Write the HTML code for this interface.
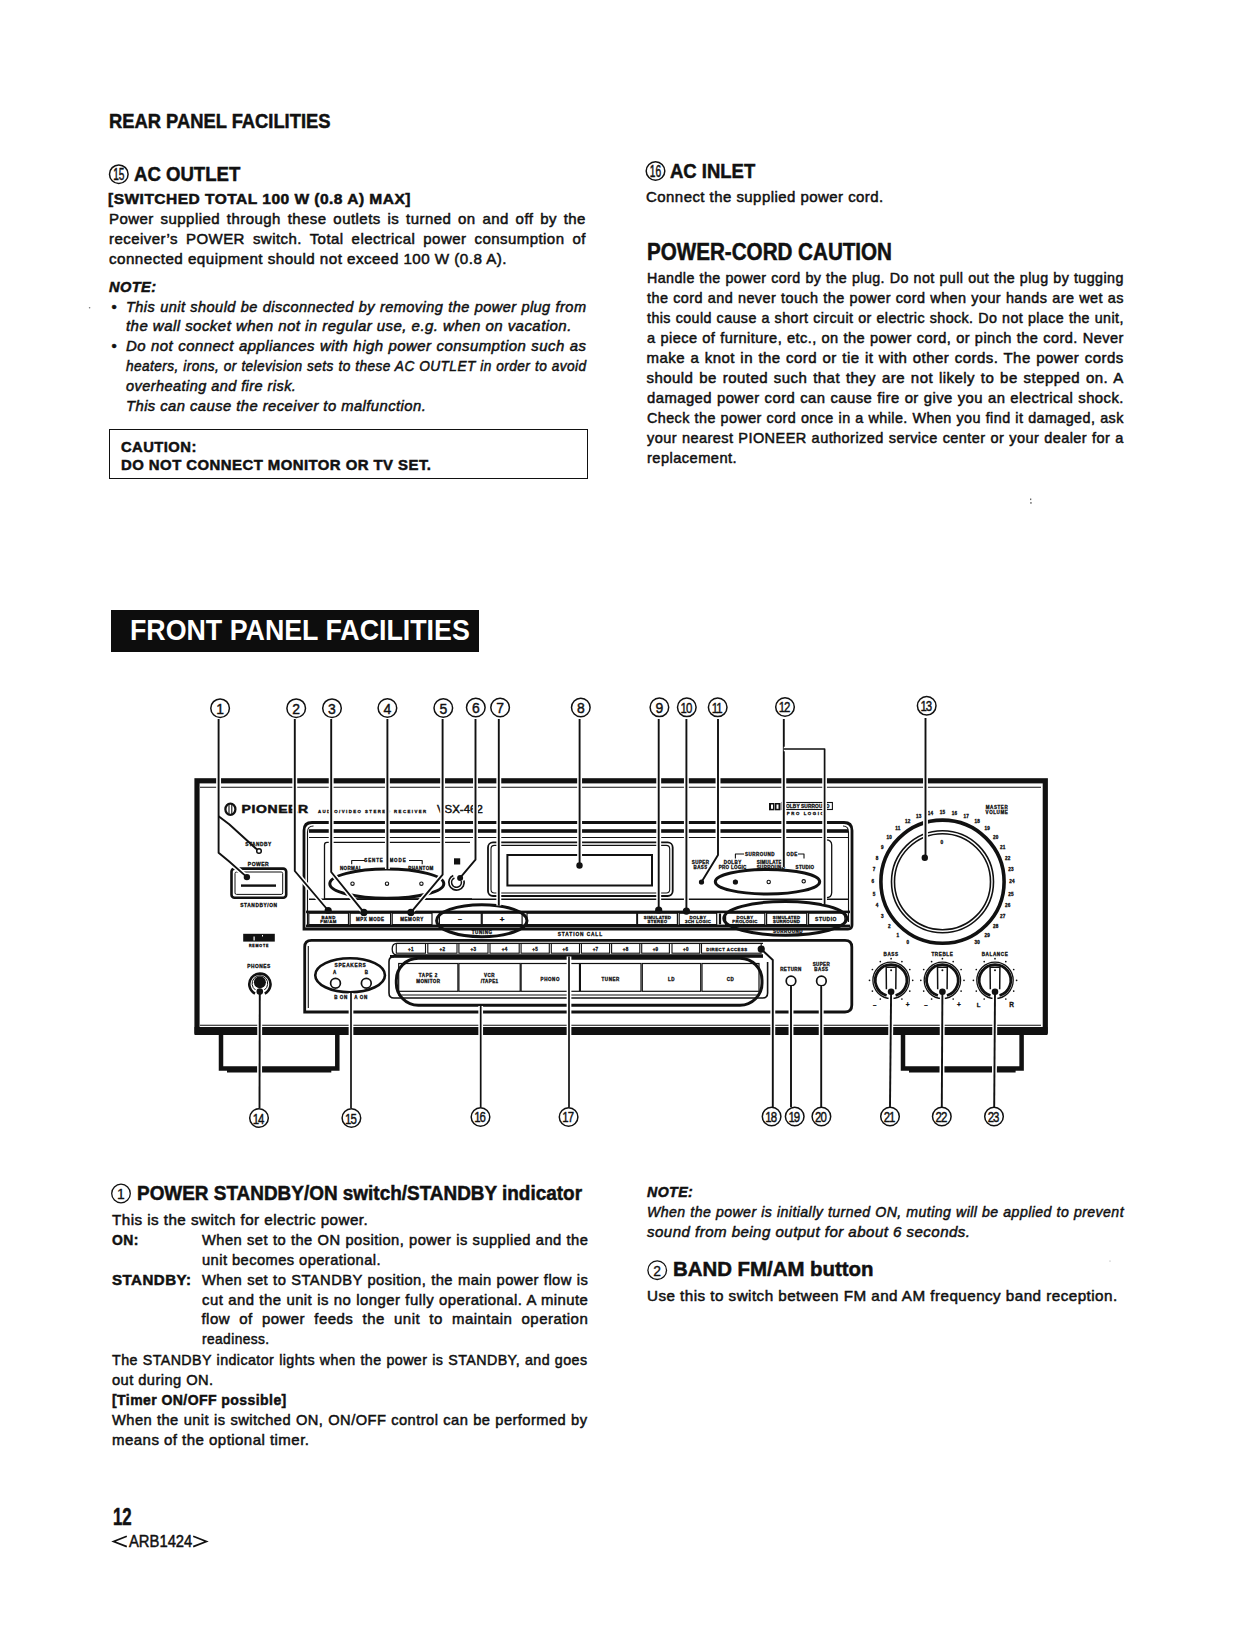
<!DOCTYPE html>
<html><head><meta charset="utf-8"><style>
html,body{margin:0;padding:0;background:#fff;}
body{width:1234px;height:1634px;position:relative;overflow:hidden;color:#111;}
.l{position:absolute;white-space:nowrap;transform-origin:0 0;-webkit-text-stroke:0.5px #111;}
.j{text-align:justify;text-align-last:justify;white-space:normal;}
.c{position:absolute;border:1.3px solid #111;border-radius:50%;box-sizing:border-box;font-family:'Liberation Sans', sans-serif;text-align:center;color:#111;}
.box{position:absolute;border:1.5px solid #111;box-sizing:border-box;}
.hd{position:absolute;background:#0d0d0d;}
</style></head><body>
<div class="l" style="left:109.0px;top:111.4px;font:normal bold 20.3px/20.3px 'Liberation Sans', sans-serif;letter-spacing:0px;transform:scaleX(0.9044)">REAR PANEL FACILITIES</div>
<div class="l" style="left:133.5px;top:162.8px;font:normal bold 21px/21px 'Liberation Sans', sans-serif;letter-spacing:0px;transform:scaleX(0.8847)">AC OUTLET</div>
<div class="l" style="left:108.4px;top:191.2px;font:normal bold 15.0px/15.0px 'Liberation Sans', sans-serif;letter-spacing:0.45px;transform:scaleX(1.0364)">[SWITCHED TOTAL 100 W (0.8 A) MAX]</div>
<div class="l j" style="left:109.0px;top:211.2px;width:476.9px;font:normal normal 15.0px/15.0px 'Liberation Sans', sans-serif;letter-spacing:0.45px">Power supplied through these outlets is turned on and off by the</div>
<div class="l j" style="left:109.0px;top:230.7px;width:476.9px;font:normal normal 15.0px/15.0px 'Liberation Sans', sans-serif;letter-spacing:0.45px">receiver’s POWER switch. Total electrical power consumption of</div>
<div class="l" style="left:109.0px;top:250.6px;font:normal normal 15.0px/15.0px 'Liberation Sans', sans-serif;letter-spacing:0.45px;transform:scaleX(1.0132)">connected equipment should not exceed 100 W (0.8 A).</div>
<div class="l" style="left:109.0px;top:278.6px;font:italic bold 15.0px/15.0px 'Liberation Sans', sans-serif;letter-spacing:0.45px;transform:scaleX(0.9730)">NOTE:</div>
<div class="l" style="left:111.5px;top:298.6px;font:normal normal 15.0px/15.0px 'Liberation Sans', sans-serif">•</div>
<div class="l j" style="left:125.5px;top:298.6px;width:474.6px;font:italic normal 15.0px/15.0px 'Liberation Sans', sans-serif;letter-spacing:0.45px;transform:scaleX(0.9702)">This unit should be disconnected by removing the power plug from</div>
<div class="l" style="left:125.5px;top:318.2px;font:italic normal 15.0px/15.0px 'Liberation Sans', sans-serif;letter-spacing:0.45px;transform:scaleX(1.0012)">the wall socket when not in regular use, e.g. when on vacation.</div>
<div class="l" style="left:111.5px;top:338.2px;font:normal normal 15.0px/15.0px 'Liberation Sans', sans-serif">•</div>
<div class="l j" style="left:125.5px;top:338.2px;width:462.3px;font:italic normal 15.0px/15.0px 'Liberation Sans', sans-serif;letter-spacing:0.45px;transform:scaleX(0.9960)">Do not connect appliances with high power consumption such as</div>
<div class="l j" style="left:125.5px;top:357.6px;width:505.0px;font:italic normal 15.0px/15.0px 'Liberation Sans', sans-serif;letter-spacing:0.45px;transform:scaleX(0.9119)">heaters, irons, or television sets to these AC OUTLET in order to avoid</div>
<div class="l" style="left:125.5px;top:377.8px;font:italic normal 15.0px/15.0px 'Liberation Sans', sans-serif;letter-spacing:0.45px;transform:scaleX(0.9679)">overheating and fire risk.</div>
<div class="l" style="left:125.5px;top:397.8px;font:italic normal 15.0px/15.0px 'Liberation Sans', sans-serif;letter-spacing:0.45px;transform:scaleX(0.9859)">This can cause the receiver to malfunction.</div>
<div class="l" style="left:121.0px;top:438.8px;font:normal bold 15.0px/15.0px 'Liberation Sans', sans-serif;letter-spacing:0.45px;transform:scaleX(0.9852)">CAUTION:</div>
<div class="l" style="left:121.0px;top:456.9px;font:normal bold 15.0px/15.0px 'Liberation Sans', sans-serif;letter-spacing:0.45px;transform:scaleX(0.9946)">DO NOT CONNECT MONITOR OR TV SET.</div>
<div class="l" style="left:670.0px;top:159.7px;font:normal bold 21px/21px 'Liberation Sans', sans-serif;letter-spacing:0px;transform:scaleX(0.8799)">AC INLET</div>
<div class="l" style="left:646.3px;top:189.1px;font:normal normal 15.0px/15.0px 'Liberation Sans', sans-serif;letter-spacing:0.45px;transform:scaleX(0.9993)">Connect the supplied power cord.</div>
<div class="l" style="left:647.0px;top:241.4px;font:normal bold 23px/23px 'Liberation Sans', sans-serif;letter-spacing:0px;transform:scaleX(0.8960)">POWER-CORD CAUTION</div>
<div class="l j" style="left:646.5px;top:270.4px;width:501.0px;font:normal normal 15.0px/15.0px 'Liberation Sans', sans-serif;letter-spacing:0.45px;transform:scaleX(0.9517)">Handle the power cord by the plug. Do not pull out the plug by tugging</div>
<div class="l j" style="left:646.5px;top:290.3px;width:495.8px;font:normal normal 15.0px/15.0px 'Liberation Sans', sans-serif;letter-spacing:0.45px;transform:scaleX(0.9617)">the cord and never touch the power cord when your hands are wet as</div>
<div class="l j" style="left:646.5px;top:310.2px;width:501.9px;font:normal normal 15.0px/15.0px 'Liberation Sans', sans-serif;letter-spacing:0.45px;transform:scaleX(0.9500)">this could cause a short circuit or electric shock. Do not place the unit,</div>
<div class="l j" style="left:646.5px;top:330.1px;width:490.4px;font:normal normal 15.0px/15.0px 'Liberation Sans', sans-serif;letter-spacing:0.45px;transform:scaleX(0.9722)">a piece of furniture, etc., on the power cord, or pinch the cord. Never</div>
<div class="l j" style="left:646.5px;top:350.0px;width:477.2px;font:normal normal 15.0px/15.0px 'Liberation Sans', sans-serif;letter-spacing:0.45px">make a knot in the cord or tie it with other cords. The power cords</div>
<div class="l j" style="left:646.5px;top:369.9px;width:477.2px;font:normal normal 15.0px/15.0px 'Liberation Sans', sans-serif;letter-spacing:0.45px">should be routed such that they are not likely to be stepped on. A</div>
<div class="l j" style="left:646.5px;top:389.8px;width:482.3px;font:normal normal 15.0px/15.0px 'Liberation Sans', sans-serif;letter-spacing:0.45px;transform:scaleX(0.9887)">damaged power cord can cause fire or give you an electrical shock.</div>
<div class="l j" style="left:646.5px;top:409.8px;width:498.7px;font:normal normal 15.0px/15.0px 'Liberation Sans', sans-serif;letter-spacing:0.45px;transform:scaleX(0.9560)">Check the power cord once in a while. When you find it damaged, ask</div>
<div class="l j" style="left:646.5px;top:429.6px;width:492.8px;font:normal normal 15.0px/15.0px 'Liberation Sans', sans-serif;letter-spacing:0.45px;transform:scaleX(0.9675)">your nearest PIONEER authorized service center or your dealer for a</div>
<div class="l" style="left:646.5px;top:449.6px;font:normal normal 15.0px/15.0px 'Liberation Sans', sans-serif;letter-spacing:0.45px;transform:scaleX(0.9780)">replacement.</div>
<div class="l" style="left:136.5px;top:1184.3px;font:normal bold 19.5px/19.5px 'Liberation Sans', sans-serif;letter-spacing:0px;transform:scaleX(0.9710)">POWER STANDBY/ON switch/STANDBY indicator</div>
<div class="l" style="left:112.3px;top:1212.0px;font:normal normal 15.0px/15.0px 'Liberation Sans', sans-serif;letter-spacing:0.45px;transform:scaleX(1.0126)">This is the switch for electric power.</div>
<div class="l" style="left:112.2px;top:1232.2px;font:normal bold 15.0px/15.0px 'Liberation Sans', sans-serif;letter-spacing:0.45px;transform:scaleX(0.9286)">ON:</div>
<div class="l j" style="left:201.5px;top:1232.2px;width:394.3px;font:normal normal 15.0px/15.0px 'Liberation Sans', sans-serif;letter-spacing:0.45px;transform:scaleX(0.9797)">When set to the ON position, power is supplied and the</div>
<div class="l" style="left:201.5px;top:1251.5px;font:normal normal 15.0px/15.0px 'Liberation Sans', sans-serif;letter-spacing:0.45px;transform:scaleX(0.9780)">unit becomes operational.</div>
<div class="l" style="left:112.2px;top:1271.5px;font:normal bold 15.0px/15.0px 'Liberation Sans', sans-serif;letter-spacing:0.45px;transform:scaleX(1.0067)">STANDBY:</div>
<div class="l j" style="left:201.5px;top:1271.5px;width:393.6px;font:normal normal 15.0px/15.0px 'Liberation Sans', sans-serif;letter-spacing:0.45px;transform:scaleX(0.9814)">When set to STANDBY position, the main power flow is</div>
<div class="l j" style="left:201.5px;top:1291.5px;width:389.0px;font:normal normal 15.0px/15.0px 'Liberation Sans', sans-serif;letter-spacing:0.45px;transform:scaleX(0.9932)">cut and the unit is no longer fully operational. A minute</div>
<div class="l j" style="left:201.5px;top:1311.2px;width:386.7px;font:normal normal 15.0px/15.0px 'Liberation Sans', sans-serif;letter-spacing:0.45px">flow of power feeds the unit to maintain operation</div>
<div class="l" style="left:201.5px;top:1331.0px;font:normal normal 15.0px/15.0px 'Liberation Sans', sans-serif;letter-spacing:0.45px;transform:scaleX(0.9170)">readiness.</div>
<div class="l j" style="left:112.3px;top:1351.5px;width:500.4px;font:normal normal 15.0px/15.0px 'Liberation Sans', sans-serif;letter-spacing:0.45px;transform:scaleX(0.9502)">The STANDBY indicator lights when the power is STANDBY, and goes</div>
<div class="l" style="left:112.3px;top:1371.8px;font:normal normal 15.0px/15.0px 'Liberation Sans', sans-serif;letter-spacing:0.45px;transform:scaleX(0.9782)">out during ON.</div>
<div class="l" style="left:112.3px;top:1391.7px;font:normal bold 15.0px/15.0px 'Liberation Sans', sans-serif;letter-spacing:0.45px;transform:scaleX(0.9354)">[Timer ON/OFF possible]</div>
<div class="l j" style="left:112.3px;top:1411.8px;width:486.3px;font:normal normal 15.0px/15.0px 'Liberation Sans', sans-serif;letter-spacing:0.45px;transform:scaleX(0.9777)">When the unit is switched ON, ON/OFF control can be performed by</div>
<div class="l" style="left:112.3px;top:1431.8px;font:normal normal 15.0px/15.0px 'Liberation Sans', sans-serif;letter-spacing:0.45px;transform:scaleX(1.0027)">means of the optional timer.</div>
<div class="l" style="left:113.0px;top:1505.9px;font:normal bold 23.2px/23.2px 'Liberation Sans', sans-serif;letter-spacing:0px;transform:scaleX(0.7249)">12</div>
<div class="l" style="left:128.6px;top:1534.0px;font:normal normal 16.8px/16.8px 'Liberation Sans', sans-serif;letter-spacing:0px;transform:scaleX(0.8811)">ARB1424</div>
<div class="l" style="left:647.0px;top:1184.0px;font:italic bold 15.0px/15.0px 'Liberation Sans', sans-serif;letter-spacing:0.45px;transform:scaleX(0.9444)">NOTE:</div>
<div class="l j" style="left:647.0px;top:1204.0px;width:506.9px;font:italic normal 15.0px/15.0px 'Liberation Sans', sans-serif;letter-spacing:0.45px;transform:scaleX(0.9410)">When the power is initially turned ON, muting will be applied to prevent</div>
<div class="l" style="left:647.0px;top:1223.7px;font:italic normal 15.0px/15.0px 'Liberation Sans', sans-serif;letter-spacing:0.45px;transform:scaleX(1.0057)">sound from being output for about 6 seconds.</div>
<div class="l" style="left:672.5px;top:1260.4px;font:normal bold 19.5px/19.5px 'Liberation Sans', sans-serif;letter-spacing:0px;transform:scaleX(1.0459)">BAND FM/AM button</div>
<div class="l" style="left:647.0px;top:1287.8px;font:normal normal 15.0px/15.0px 'Liberation Sans', sans-serif;letter-spacing:0.45px;transform:scaleX(1.0143)">Use this to switch between FM and AM frequency band reception.</div>
<svg style="position:absolute;left:0;top:0" width="1234" height="1634" viewBox="0 0 1234 1634">
<g font-family="'Liberation Sans',sans-serif" fill="#111">
<circle cx="118.8" cy="174.2" r="9.3" stroke="#111" stroke-width="1.5" fill="none"/>
<text x="118.8" y="180.3" font-size="17" text-anchor="middle" transform="translate(118.8 0) scale(0.6 1) translate(-118.8 0)" stroke="#111" stroke-width="0.5">15</text>
<circle cx="655.5" cy="171" r="9.3" stroke="#111" stroke-width="1.5" fill="none"/>
<text x="655.5" y="177.1" font-size="17" text-anchor="middle" transform="translate(655.5 0) scale(0.6 1) translate(-655.5 0)" stroke="#111" stroke-width="0.5">16</text>
<circle cx="89.6" cy="307.8" r="0.8" fill="#777"/>
<path d="M126.8,1536.3 L113.6,1541.5 L126.8,1546.6 M193.2,1536.3 L206.4,1541.5 L193.2,1546.6" stroke="#111" stroke-width="1.7" fill="none" stroke-linejoin="miter"/>
<rect x="1030" y="498.5" width="1.3" height="1.6" fill="#666"/><rect x="1030.3" y="502" width="1.3" height="1.8" fill="#666"/>
<circle cx="1110" cy="1261" r="0.6" fill="#999"/>
<circle cx="121" cy="1193.5" r="9.3" stroke="#111" stroke-width="1.3" fill="none"/>
<text x="121" y="1199.2" font-size="15.5" text-anchor="middle" stroke="#111" stroke-width="0.3" transform="translate(121 0) scale(0.9 1) translate(-121 0)">1</text>
<circle cx="657.2" cy="1270.2" r="9.3" stroke="#111" stroke-width="1.3" fill="none"/>
<text x="657.2" y="1275.9" font-size="15.5" text-anchor="middle" stroke="#111" stroke-width="0.3" transform="translate(657.2 0) scale(0.9 1) translate(-657.2 0)">2</text>
</g></svg>
<div class="box" style="left:109px;top:429px;width:478.5px;height:49.5px;"></div>
<div class="hd" style="left:110.7px;top:609.7px;width:368.6px;height:42.2px;"></div>
<div class="l" style="left:129.8px;top:615.3px;font:bold 29.6px/29.6px 'Liberation Sans', sans-serif;color:#fff;-webkit-text-stroke:0;transform:scaleX(0.905)">FRONT PANEL FACILITIES</div>
<svg style="position:absolute;left:0;top:680px" width="1234" height="460" viewBox="0 680 1234 460">
<g style="font-family:'Liberation Sans',sans-serif" fill="#111">
<rect x="197" y="780.8" width="848.3" height="250.4000000000001" rx="0" stroke="#111" stroke-width="5.2" fill="none"/>
<rect x="194.5" y="1027" width="853" height="8" fill="#111"/>
<path d="M200,787.3 L1041,787.3" stroke="#111" stroke-width="1.1" fill="none" stroke-linejoin="round"/>
<path d="M200,1025.3 L1041,1025.3" stroke="#111" stroke-width="1.1" fill="none" stroke-linejoin="round"/>
<path d="M221,1035 L221,1068.5 L337.3,1068.5 L337.3,1035" stroke="#111" stroke-width="4.5" fill="none"/>
<rect x="227" y="1069" width="104.30000000000001" height="3.5" fill="#111"/>
<path d="M903,1035 L903,1068.5 L1021.6,1068.5 L1021.6,1035" stroke="#111" stroke-width="4.5" fill="none"/>
<rect x="909" y="1069" width="106.60000000000002" height="3.5" fill="#111"/>
<text x="258.5" y="846" font-size="4.8" font-weight="bold" text-anchor="middle" letter-spacing="0.5" stroke="#111" stroke-width="0.3" >STANDBY</text>
<circle cx="259" cy="851" r="2.3" stroke="#111" stroke-width="1.5" fill="none"/>
<text x="258.5" y="866" font-size="5" font-weight="bold" text-anchor="middle" letter-spacing="0.5" stroke="#111" stroke-width="0.3" >POWER</text>
<rect x="231.5" y="868.6" width="54.7" height="29.2" rx="3" stroke="#111" stroke-width="2.6" fill="none"/>
<rect x="235" y="872" width="47.7" height="22.4" rx="1.5" stroke="#111" stroke-width="1" fill="none"/>
<rect x="241" y="884.4" width="35" height="2.4" fill="#111"/>
<text x="259" y="906.5" font-size="4.8" font-weight="bold" text-anchor="middle" letter-spacing="0.6" stroke="#111" stroke-width="0.3" >STANDBY/ON</text>
<rect x="243.2" y="933.8" width="31.6" height="7.8" fill="#111"/>
<rect x="253.5" y="936.5" width="1.2" height="4" fill="#fff"/><rect x="262" y="935" width="1" height="1.5" fill="#fff"/>
<text x="259" y="947" font-size="3.6" font-weight="bold" text-anchor="middle" letter-spacing="0.8" stroke="#111" stroke-width="0.3" >REMOTE</text>
<text x="259" y="968" font-size="4.8" font-weight="bold" text-anchor="middle" letter-spacing="0.5" stroke="#111" stroke-width="0.3" >PHONES</text>
<path d="M255,993.6 A10.6,10.6 0 1 1 264.8,993.6" stroke="#111" stroke-width="2.6" fill="none"/>
<path d="M255.5,990 A7.8,7.8 0 1 1 264.3,990" stroke="#111" stroke-width="1.0" fill="none"/>
<circle cx="259.9" cy="982.3" r="6" fill="#111"/>
<path d="M304,929 L304,830.5 Q304,822.5 312,822.5 L844,822.5 Q852,822.5 852,830.5 L852,925 Q852,929 848,929 Z" stroke="#111" stroke-width="2.8" fill="none"/>
<path d="M307.5,926 L307.5,832 Q307.5,826 313.5,826 M843,826 Q848.5,826 848.5,832 L848.5,922" stroke="#111" stroke-width="1.1" fill="none"/>
<rect x="309" y="829.2" width="539" height="3.6" fill="#111"/>
<path d="M309,837.5 L848,837.5" stroke="#111" stroke-width="1.0" fill="none" stroke-linejoin="round"/>
<path d="M309,899.2 L848,899.2" stroke="#111" stroke-width="1.6" fill="none" stroke-linejoin="round"/>
<path d="M470,842.4 L327,842.4 Q324.5,842.4 324.5,845 L324.5,899 L472,899" stroke="#111" stroke-width="1.3" fill="none"/>
<ellipse cx="386.8" cy="883.7" rx="57" ry="14.6" stroke="#111" stroke-width="3" fill="none"/>
<circle cx="352.5" cy="883.7" r="1.7" stroke="#111" stroke-width="1.1" fill="none"/>
<circle cx="387" cy="883.7" r="1.7" stroke="#111" stroke-width="1.1" fill="none"/>
<circle cx="421.4" cy="883.7" r="1.7" stroke="#111" stroke-width="1.1" fill="none"/>
<path d="M351.7,864.3 L351.7,860.5 L422.2,860.5 L422.2,864.3" stroke="#111" stroke-width="1.1" fill="none" stroke-linejoin="round"/>
<rect x="365" y="857.5" width="44" height="6" fill="#fff"/>
<text x="374" y="862.4" font-size="4.5" font-weight="bold" text-anchor="middle" letter-spacing="0.9" stroke="#111" stroke-width="0.3" >SENTE</text>
<text x="398" y="862.4" font-size="4.5" font-weight="bold" text-anchor="middle" letter-spacing="0.9" stroke="#111" stroke-width="0.3" >MODE</text>
<text x="351" y="870.3" font-size="4.5" font-weight="bold" text-anchor="middle" letter-spacing="0.4" stroke="#111" stroke-width="0.3" >NORMAL</text>
<text x="421" y="870.3" font-size="4.5" font-weight="bold" text-anchor="middle" letter-spacing="0.4" stroke="#111" stroke-width="0.3" >PHANTOM</text>
<rect x="454" y="858.3" width="6.2" height="6.2" fill="#111"/>
<path d="M463.94,880.41 A7.7,7.7 0 1 1 453.25,875.42" stroke="#111" stroke-width="1.7" fill="none"/>
<path d="M461.23,881.13 A4.9,4.9 0 1 1 454.43,877.96" stroke="#111" stroke-width="1.6" fill="none"/>
<rect x="488" y="842.4" width="184.7" height="53.6" rx="5" stroke="#111" stroke-width="1.8" fill="none"/>
<rect x="491" y="845.4" width="178.7" height="47.6" rx="3.5" stroke="#111" stroke-width="1.1" fill="none"/>
<rect x="507.4" y="855" width="144.60000000000002" height="30.5" rx="0" stroke="#111" stroke-width="2" fill="none"/>
<path d="M826,839.8 Q831.7,839.8 831.7,845 L831.7,892.5 Q831.7,897.7 826,897.7" stroke="#111" stroke-width="1.3" fill="none"/>
<text x="700.6" y="864.3" font-size="4.5" font-weight="bold" text-anchor="middle" letter-spacing="0.4" stroke="#111" stroke-width="0.3" >SUPER</text>
<text x="700.6" y="869.3" font-size="4.5" font-weight="bold" text-anchor="middle" letter-spacing="0.4" stroke="#111" stroke-width="0.3" >BASS</text>
<path d="M735.4,858.5 L735.4,854 L804,854 L804,858.5" stroke="#111" stroke-width="1.1" fill="none" stroke-linejoin="round"/>
<rect x="744" y="851" width="54" height="6" fill="#fff"/>
<text x="760" y="856.3" font-size="4.5" font-weight="bold" text-anchor="middle" letter-spacing="0.5" stroke="#111" stroke-width="0.3" >SURROUND</text>
<text x="790" y="856.3" font-size="4.5" font-weight="bold" text-anchor="middle" letter-spacing="0.5" stroke="#111" stroke-width="0.3" >MODE</text>
<text x="732.7" y="864.3" font-size="4.5" font-weight="bold" text-anchor="middle" letter-spacing="0.4" stroke="#111" stroke-width="0.3" >DOLBY</text>
<text x="732.7" y="869.3" font-size="4.5" font-weight="bold" text-anchor="middle" letter-spacing="0.3" stroke="#111" stroke-width="0.3" >PRO LOGIC</text>
<text x="771" y="864.3" font-size="4.5" font-weight="bold" text-anchor="middle" letter-spacing="0.3" stroke="#111" stroke-width="0.3" >SIMULATED</text>
<text x="771" y="869.3" font-size="4.5" font-weight="bold" text-anchor="middle" letter-spacing="0.3" stroke="#111" stroke-width="0.3" >SURROUND</text>
<text x="805" y="869.3" font-size="4.5" font-weight="bold" text-anchor="middle" letter-spacing="0.3" stroke="#111" stroke-width="0.3" >STUDIO</text>
<ellipse cx="767.5" cy="881.7" rx="52.2" ry="12.3" stroke="#111" stroke-width="3" fill="none"/>
<circle cx="735.4" cy="882" r="2.2" fill="#111"/>
<circle cx="768.7" cy="882" r="1.7" stroke="#111" stroke-width="1.1" fill="none"/>
<circle cx="803.7" cy="881.3" r="1.7" stroke="#111" stroke-width="1.1" fill="none"/>
<circle cx="701.5" cy="882" r="2.2" fill="#111"/>
<rect x="306" y="910.6" width="544" height="2.6" fill="#111"/>
<rect x="306" y="924.6" width="544" height="2.6" fill="#111"/>
<rect x="308.8" y="913.2" width="39.69999999999999" height="11.399999999999977" rx="0" stroke="#111" stroke-width="1.2" fill="none"/>
<rect x="350.1" y="913.2" width="40.5" height="11.399999999999977" rx="0" stroke="#111" stroke-width="1.2" fill="none"/>
<rect x="392.2" y="913.2" width="39.80000000000001" height="11.399999999999977" rx="0" stroke="#111" stroke-width="1.2" fill="none"/>
<rect x="439.4" y="913.2" width="41.900000000000034" height="11.399999999999977" rx="0" stroke="#111" stroke-width="1.2" fill="none"/>
<rect x="482.2" y="913.2" width="39.900000000000034" height="11.399999999999977" rx="0" stroke="#111" stroke-width="1.2" fill="none"/>
<rect x="527" y="913.2" width="109.79999999999995" height="11.399999999999977" rx="0" stroke="#111" stroke-width="1.2" fill="none"/>
<rect x="637.5" y="913.2" width="39.89999999999998" height="11.399999999999977" rx="0" stroke="#111" stroke-width="1.2" fill="none"/>
<rect x="679.2" y="913.2" width="37.5" height="11.399999999999977" rx="0" stroke="#111" stroke-width="1.2" fill="none"/>
<rect x="725.6" y="913.2" width="39.19999999999993" height="11.399999999999977" rx="0" stroke="#111" stroke-width="1.2" fill="none"/>
<rect x="766.6" y="913.2" width="40.10000000000002" height="11.399999999999977" rx="0" stroke="#111" stroke-width="1.2" fill="none"/>
<path d="M808.5,913.2 L840,913.2 Q845,913.2 845,918.9 Q845,924.6 840,924.6 L808.5,924.6 Z" stroke="#111" stroke-width="1.3" fill="none"/>
<path d="M720,913.5 L720,924.3" stroke="#111" stroke-width="2.2" fill="none" stroke-linejoin="round"/>
<text x="328.6" y="918.6" font-size="4.3" font-weight="bold" text-anchor="middle" letter-spacing="0.5" stroke="#111" stroke-width="0.3" >BAND</text>
<text x="328.6" y="923.3" font-size="4.3" font-weight="bold" text-anchor="middle" letter-spacing="0.5" stroke="#111" stroke-width="0.3" >FM/AM</text>
<text x="370.3" y="921" font-size="4.5" font-weight="bold" text-anchor="middle" letter-spacing="0.5" stroke="#111" stroke-width="0.3" >MPX  MODE</text>
<text x="412" y="921" font-size="4.5" font-weight="bold" text-anchor="middle" letter-spacing="0.6" stroke="#111" stroke-width="0.3" >MEMORY</text>
<text x="460" y="921" font-size="7" font-weight="bold" text-anchor="middle" letter-spacing="0" stroke="#111" stroke-width="0.3" >–</text>
<text x="502" y="922" font-size="8" font-weight="bold" text-anchor="middle" letter-spacing="0" stroke="#111" stroke-width="0.3" >+</text>
<text x="657.5" y="918.6" font-size="4.3" font-weight="bold" text-anchor="middle" letter-spacing="0.3" stroke="#111" stroke-width="0.3" >SIMULATED</text>
<text x="657.5" y="923.3" font-size="4.3" font-weight="bold" text-anchor="middle" letter-spacing="0.4" stroke="#111" stroke-width="0.3" >STEREO</text>
<text x="698" y="918.6" font-size="4.3" font-weight="bold" text-anchor="middle" letter-spacing="0.4" stroke="#111" stroke-width="0.3" >DOLBY</text>
<text x="698" y="923.3" font-size="4.3" font-weight="bold" text-anchor="middle" letter-spacing="0.3" stroke="#111" stroke-width="0.3" >3CH LOGIC</text>
<text x="745" y="918.6" font-size="4.3" font-weight="bold" text-anchor="middle" letter-spacing="0.4" stroke="#111" stroke-width="0.3" >DOLBY</text>
<text x="745" y="923.3" font-size="4.3" font-weight="bold" text-anchor="middle" letter-spacing="0.3" stroke="#111" stroke-width="0.3" >PROLOGIC</text>
<text x="786.6" y="918.6" font-size="4.3" font-weight="bold" text-anchor="middle" letter-spacing="0.3" stroke="#111" stroke-width="0.3" >SIMULATED</text>
<text x="786.6" y="923.3" font-size="4.3" font-weight="bold" text-anchor="middle" letter-spacing="0.3" stroke="#111" stroke-width="0.3" >SURROUND</text>
<text x="826" y="921" font-size="5" font-weight="bold" text-anchor="middle" letter-spacing="0.5" stroke="#111" stroke-width="0.3" >STUDIO</text>
<ellipse cx="481.8" cy="920.7" rx="45.2" ry="16" stroke="#111" stroke-width="3" fill="none"/>
<ellipse cx="785.3" cy="918.3" rx="61.5" ry="16.9" stroke="#111" stroke-width="3" fill="none"/>
<text x="482.2" y="934" font-size="4.5" font-weight="bold" text-anchor="middle" letter-spacing="0.6" stroke="#111" stroke-width="0.3" >TUNING</text>
<text x="580.4" y="935.5" font-size="4.8" font-weight="bold" text-anchor="middle" letter-spacing="0.9" stroke="#111" stroke-width="0.3" >STATION  CALL</text>
<text x="788" y="932.5" font-size="4.5" font-weight="bold" text-anchor="middle" letter-spacing="0.5" stroke="#111" stroke-width="0.3" >SURROUND</text>
<path d="M304.7,1012 L304.7,947 Q304.7,940.3 311.5,940.3 L845,940.3 Q851.8,940.3 851.8,947 L851.8,1005 Q851.8,1012 845,1012 Z" stroke="#111" stroke-width="2.8" fill="none"/>
<path d="M308.3,946 L308.3,1008" stroke="#111" stroke-width="1.1" fill="none" stroke-linejoin="round"/>
<ellipse cx="350.1" cy="975.2" rx="34.85" ry="17" stroke="#111" stroke-width="2.6" fill="none"/>
<circle cx="335.5" cy="983.3" r="4.9" stroke="#111" stroke-width="1.7" fill="none"/>
<circle cx="366.3" cy="983.3" r="4.9" stroke="#111" stroke-width="1.7" fill="none"/>
<text x="350.5" y="967.3" font-size="4.8" font-weight="bold" text-anchor="middle" letter-spacing="0.7" stroke="#111" stroke-width="0.3" >SPEAKERS</text>
<text x="334.7" y="974" font-size="4.5" font-weight="bold" text-anchor="middle" letter-spacing="0" stroke="#111" stroke-width="0.3" >A</text>
<text x="366.3" y="974" font-size="4.5" font-weight="bold" text-anchor="middle" letter-spacing="0" stroke="#111" stroke-width="0.3" >B</text>
<text x="341" y="999" font-size="4.5" font-weight="bold" text-anchor="middle" letter-spacing="0.6" stroke="#111" stroke-width="0.3" >B ON</text>
<text x="361" y="999" font-size="4.5" font-weight="bold" text-anchor="middle" letter-spacing="0.6" stroke="#111" stroke-width="0.3" >A ON</text>
<path d="M763,943.4 L397,943.4 Q392.2,943.4 392.2,949 Q392.2,955 397,955 L763,955" stroke="#111" stroke-width="1.3" fill="none"/>
<rect x="390" y="955" width="373" height="2.8" fill="#111"/>
<rect x="396.3" y="943.5" width="29.19999999999999" height="9.700000000000045" rx="0" stroke="#111" stroke-width="1.1" fill="none"/>
<text x="410.9" y="950.6" font-size="4.5" font-weight="bold" text-anchor="middle" letter-spacing="0.3" stroke="#111" stroke-width="0.3" >+1</text>
<rect x="427.8" y="943.5" width="29.19999999999999" height="9.700000000000045" rx="0" stroke="#111" stroke-width="1.1" fill="none"/>
<text x="442.4" y="950.6" font-size="4.5" font-weight="bold" text-anchor="middle" letter-spacing="0.3" stroke="#111" stroke-width="0.3" >+2</text>
<rect x="458.9" y="943.5" width="29.100000000000023" height="9.700000000000045" rx="0" stroke="#111" stroke-width="1.1" fill="none"/>
<text x="473.45" y="950.6" font-size="4.5" font-weight="bold" text-anchor="middle" letter-spacing="0.3" stroke="#111" stroke-width="0.3" >+3</text>
<rect x="490" y="943.5" width="29.200000000000045" height="9.700000000000045" rx="0" stroke="#111" stroke-width="1.1" fill="none"/>
<text x="504.6" y="950.6" font-size="4.5" font-weight="bold" text-anchor="middle" letter-spacing="0.3" stroke="#111" stroke-width="0.3" >+4</text>
<rect x="521.1" y="943.5" width="28.199999999999932" height="9.700000000000045" rx="0" stroke="#111" stroke-width="1.1" fill="none"/>
<text x="535.2" y="950.6" font-size="4.5" font-weight="bold" text-anchor="middle" letter-spacing="0.3" stroke="#111" stroke-width="0.3" >+5</text>
<rect x="551.3" y="943.5" width="28.200000000000045" height="9.700000000000045" rx="0" stroke="#111" stroke-width="1.1" fill="none"/>
<text x="565.4" y="950.6" font-size="4.5" font-weight="bold" text-anchor="middle" letter-spacing="0.3" stroke="#111" stroke-width="0.3" >+6</text>
<rect x="581.4" y="943.5" width="28.200000000000045" height="9.700000000000045" rx="0" stroke="#111" stroke-width="1.1" fill="none"/>
<text x="595.5" y="950.6" font-size="4.5" font-weight="bold" text-anchor="middle" letter-spacing="0.3" stroke="#111" stroke-width="0.3" >+7</text>
<rect x="611.6" y="943.5" width="28.199999999999932" height="9.700000000000045" rx="0" stroke="#111" stroke-width="1.1" fill="none"/>
<text x="625.7" y="950.6" font-size="4.5" font-weight="bold" text-anchor="middle" letter-spacing="0.3" stroke="#111" stroke-width="0.3" >+8</text>
<rect x="641.7" y="943.5" width="27.699999999999932" height="9.700000000000045" rx="0" stroke="#111" stroke-width="1.1" fill="none"/>
<text x="655.55" y="950.6" font-size="4.5" font-weight="bold" text-anchor="middle" letter-spacing="0.3" stroke="#111" stroke-width="0.3" >+9</text>
<rect x="672" y="943.5" width="27.700000000000045" height="9.700000000000045" rx="0" stroke="#111" stroke-width="1.1" fill="none"/>
<text x="685.85" y="950.6" font-size="4.5" font-weight="bold" text-anchor="middle" letter-spacing="0.3" stroke="#111" stroke-width="0.3" >+0</text>
<rect x="701.5" y="943.5" width="59.700000000000045" height="9.700000000000045" rx="0" stroke="#111" stroke-width="1.1" fill="none"/>
<text x="727" y="950.6" font-size="4.3" font-weight="bold" text-anchor="middle" letter-spacing="0.5" stroke="#111" stroke-width="0.3" >DIRECT  ACCESS</text>
<circle cx="761.2" cy="949.1" r="3" fill="#111"/>
<path d="M767.6,962 L767.6,993 Q767.6,998 762.6,998 L394,998 Q389,998 389,993 L389,961.6 Q389,956.6 394,956.6" stroke="#111" stroke-width="1.6" fill="none"/>
<rect x="396.3" y="958.2" width="365.7" height="47" rx="22" stroke="#111" stroke-width="3" fill="none"/>
<rect x="398.7" y="963.5" width="59.19999999999999" height="27.799999999999955" rx="0" stroke="#111" stroke-width="1.2" fill="none"/>
<text x="428.29999999999995" y="977.3" font-size="4.5" font-weight="bold" text-anchor="middle" letter-spacing="0.6" stroke="#111" stroke-width="0.3" >TAPE 2</text>
<text x="428.29999999999995" y="982.6" font-size="4.5" font-weight="bold" text-anchor="middle" letter-spacing="0.4" stroke="#111" stroke-width="0.3" >MONITOR</text>
<rect x="458.9" y="963.5" width="61.30000000000007" height="27.799999999999955" rx="0" stroke="#111" stroke-width="1.2" fill="none"/>
<text x="489.55" y="977.3" font-size="4.5" font-weight="bold" text-anchor="middle" letter-spacing="0.6" stroke="#111" stroke-width="0.3" >VCR</text>
<text x="489.55" y="982.6" font-size="4.5" font-weight="bold" text-anchor="middle" letter-spacing="0.4" stroke="#111" stroke-width="0.3" >/TAPE1</text>
<rect x="521.1" y="963.5" width="58.39999999999998" height="27.799999999999955" rx="0" stroke="#111" stroke-width="1.2" fill="none"/>
<text x="550.3" y="981.3" font-size="4.5" font-weight="bold" text-anchor="middle" letter-spacing="0.6" stroke="#111" stroke-width="0.3" >PHONO</text>
<rect x="580.4" y="963.5" width="60.60000000000002" height="27.799999999999955" rx="0" stroke="#111" stroke-width="1.2" fill="none"/>
<text x="610.7" y="981.3" font-size="4.5" font-weight="bold" text-anchor="middle" letter-spacing="0.6" stroke="#111" stroke-width="0.3" >TUNER</text>
<rect x="642.3" y="963.5" width="58.40000000000009" height="27.799999999999955" rx="0" stroke="#111" stroke-width="1.2" fill="none"/>
<text x="671.5" y="981.3" font-size="4.5" font-weight="bold" text-anchor="middle" letter-spacing="0.6" stroke="#111" stroke-width="0.3" >LD</text>
<rect x="702" y="963.5" width="57" height="27.799999999999955" rx="0" stroke="#111" stroke-width="1.2" fill="none"/>
<text x="730.5" y="981.3" font-size="4.5" font-weight="bold" text-anchor="middle" letter-spacing="0.6" stroke="#111" stroke-width="0.3" >CD</text>
<path d="M398,995 L760,995" stroke="#111" stroke-width="1.0" fill="none" stroke-linejoin="round"/>
<text x="791" y="971" font-size="4.5" font-weight="bold" text-anchor="middle" letter-spacing="0.5" stroke="#111" stroke-width="0.3" >RETURN</text>
<text x="821.4" y="966" font-size="4.5" font-weight="bold" text-anchor="middle" letter-spacing="0.4" stroke="#111" stroke-width="0.3" >SUPER</text>
<text x="821.4" y="970.8" font-size="4.5" font-weight="bold" text-anchor="middle" letter-spacing="0.4" stroke="#111" stroke-width="0.3" >BASS</text>
<circle cx="791" cy="981" r="4.8" stroke="#111" stroke-width="1.7" fill="none"/>
<circle cx="821.4" cy="981" r="4.8" stroke="#111" stroke-width="1.7" fill="none"/>
<ellipse cx="230.4" cy="809.3" rx="5" ry="5.6" stroke="#111" stroke-width="2.3" fill="none"/>
<path d="M229,804.5 L229,814.5 M231.8,804.5 L231.8,814.5" stroke="#111" stroke-width="1.1"/>
<text x="241.5" y="813.3" font-size="11.2" font-weight="bold" letter-spacing="0.5" stroke="#111" stroke-width="0.5" transform="translate(241.5 0) scale(1.25 1) translate(-241.5 0)">PIONEER</text>
<text x="318" y="812.7" font-size="4.3" font-weight="bold" text-anchor="start" letter-spacing="1.45" stroke="#111" stroke-width="0.3" >AUDIO/VIDEO  STEREO  RECEIVER</text>
<text x="437" y="813" font-size="11.8" font-weight="normal" letter-spacing="0" stroke="#111" stroke-width="0.45" transform="translate(437 0) scale(0.97 1) translate(-437 0)">VSX-462</text>
<rect x="769" y="803" width="5.5" height="7.3" fill="#111"/><rect x="775" y="803" width="5.5" height="7.3" fill="#111"/>
<rect x="771" y="804.5" width="2" height="4.3" fill="#fff"/><rect x="776.5" y="804.5" width="2" height="4.3" fill="#fff"/>
<rect x="781.5" y="802.5" width="50.89999999999998" height="7.0" rx="0" stroke="#111" stroke-width="1.1" fill="none"/>
<text x="806" y="808.2" font-size="4.8" font-weight="bold" text-anchor="middle" letter-spacing="0.1" stroke="#111" stroke-width="0.3" >DOLBY SURROUND</text>
<text x="806" y="815.3" font-size="4.3" font-weight="bold" text-anchor="middle" letter-spacing="1.6" stroke="#111" stroke-width="0.3" >PRO  LOGIC</text>
<text x="997" y="808.5" font-size="4.5" font-weight="bold" text-anchor="middle" letter-spacing="0.6" stroke="#111" stroke-width="0.3" >MASTER</text>
<text x="997" y="814" font-size="4.5" font-weight="bold" text-anchor="middle" letter-spacing="0.6" stroke="#111" stroke-width="0.3" >VOLUME</text>
<circle cx="942.5" cy="881.7" r="61.6" stroke="#111" stroke-width="3.6" fill="none"/>
<circle cx="942.5" cy="881.7" r="51" stroke="#111" stroke-width="1.6" fill="none"/>
<circle cx="942.5" cy="881.7" r="48" stroke="#111" stroke-width="1.6" fill="none"/>
<text x="941.8" y="844" font-size="4.8" font-weight="bold" text-anchor="middle" letter-spacing="0" stroke="#111" stroke-width="0.3" >0</text>
<text x="907.8" y="943.6" font-size="4.6" font-weight="bold" text-anchor="middle" letter-spacing="0.2" stroke="#111" stroke-width="0.3" >0</text>
<text x="897.8" y="936.6" font-size="4.6" font-weight="bold" text-anchor="middle" letter-spacing="0.2" stroke="#111" stroke-width="0.3" >1</text>
<text x="889.3" y="928.1" font-size="4.6" font-weight="bold" text-anchor="middle" letter-spacing="0.2" stroke="#111" stroke-width="0.3" >2</text>
<text x="882.3" y="918.2" font-size="4.6" font-weight="bold" text-anchor="middle" letter-spacing="0.2" stroke="#111" stroke-width="0.3" >3</text>
<text x="877.2" y="907.2" font-size="4.6" font-weight="bold" text-anchor="middle" letter-spacing="0.2" stroke="#111" stroke-width="0.3" >4</text>
<text x="874.1" y="895.5" font-size="4.6" font-weight="bold" text-anchor="middle" letter-spacing="0.2" stroke="#111" stroke-width="0.3" >5</text>
<text x="873.0" y="883.4" font-size="4.6" font-weight="bold" text-anchor="middle" letter-spacing="0.2" stroke="#111" stroke-width="0.3" >6</text>
<text x="874.1" y="871.3" font-size="4.6" font-weight="bold" text-anchor="middle" letter-spacing="0.2" stroke="#111" stroke-width="0.3" >7</text>
<text x="877.2" y="859.6" font-size="4.6" font-weight="bold" text-anchor="middle" letter-spacing="0.2" stroke="#111" stroke-width="0.3" >8</text>
<text x="882.3" y="848.7" font-size="4.6" font-weight="bold" text-anchor="middle" letter-spacing="0.2" stroke="#111" stroke-width="0.3" >9</text>
<text x="889.3" y="838.7" font-size="4.6" font-weight="bold" text-anchor="middle" letter-spacing="0.2" stroke="#111" stroke-width="0.3" >10</text>
<text x="897.8" y="830.2" font-size="4.6" font-weight="bold" text-anchor="middle" letter-spacing="0.2" stroke="#111" stroke-width="0.3" >11</text>
<text x="907.8" y="823.2" font-size="4.6" font-weight="bold" text-anchor="middle" letter-spacing="0.2" stroke="#111" stroke-width="0.3" >12</text>
<text x="918.7" y="818.1" font-size="4.6" font-weight="bold" text-anchor="middle" letter-spacing="0.2" stroke="#111" stroke-width="0.3" >13</text>
<text x="930.4" y="815.0" font-size="4.6" font-weight="bold" text-anchor="middle" letter-spacing="0.2" stroke="#111" stroke-width="0.3" >14</text>
<text x="942.5" y="813.9" font-size="4.6" font-weight="bold" text-anchor="middle" letter-spacing="0.2" stroke="#111" stroke-width="0.3" >15</text>
<text x="954.6" y="815.0" font-size="4.6" font-weight="bold" text-anchor="middle" letter-spacing="0.2" stroke="#111" stroke-width="0.3" >16</text>
<text x="966.3" y="818.1" font-size="4.6" font-weight="bold" text-anchor="middle" letter-spacing="0.2" stroke="#111" stroke-width="0.3" >17</text>
<text x="977.2" y="823.2" font-size="4.6" font-weight="bold" text-anchor="middle" letter-spacing="0.2" stroke="#111" stroke-width="0.3" >18</text>
<text x="987.2" y="830.2" font-size="4.6" font-weight="bold" text-anchor="middle" letter-spacing="0.2" stroke="#111" stroke-width="0.3" >19</text>
<text x="995.7" y="838.7" font-size="4.6" font-weight="bold" text-anchor="middle" letter-spacing="0.2" stroke="#111" stroke-width="0.3" >20</text>
<text x="1002.7" y="848.7" font-size="4.6" font-weight="bold" text-anchor="middle" letter-spacing="0.2" stroke="#111" stroke-width="0.3" >21</text>
<text x="1007.8" y="859.6" font-size="4.6" font-weight="bold" text-anchor="middle" letter-spacing="0.2" stroke="#111" stroke-width="0.3" >22</text>
<text x="1010.9" y="871.3" font-size="4.6" font-weight="bold" text-anchor="middle" letter-spacing="0.2" stroke="#111" stroke-width="0.3" >23</text>
<text x="1012.0" y="883.4" font-size="4.6" font-weight="bold" text-anchor="middle" letter-spacing="0.2" stroke="#111" stroke-width="0.3" >24</text>
<text x="1010.9" y="895.5" font-size="4.6" font-weight="bold" text-anchor="middle" letter-spacing="0.2" stroke="#111" stroke-width="0.3" >25</text>
<text x="1007.8" y="907.2" font-size="4.6" font-weight="bold" text-anchor="middle" letter-spacing="0.2" stroke="#111" stroke-width="0.3" >26</text>
<text x="1002.7" y="918.2" font-size="4.6" font-weight="bold" text-anchor="middle" letter-spacing="0.2" stroke="#111" stroke-width="0.3" >27</text>
<text x="995.7" y="928.1" font-size="4.6" font-weight="bold" text-anchor="middle" letter-spacing="0.2" stroke="#111" stroke-width="0.3" >28</text>
<text x="987.2" y="936.6" font-size="4.6" font-weight="bold" text-anchor="middle" letter-spacing="0.2" stroke="#111" stroke-width="0.3" >29</text>
<text x="977.2" y="943.6" font-size="4.6" font-weight="bold" text-anchor="middle" letter-spacing="0.2" stroke="#111" stroke-width="0.3" >30</text>
<text x="891.1" y="956.4" font-size="4.6" font-weight="bold" text-anchor="middle" letter-spacing="0.6" stroke="#111" stroke-width="0.3" >BASS</text>
<circle cx="891.1" cy="980.3" r="18.2" stroke="#111" stroke-width="1.3" fill="none"/>
<path d="M886.6,995.5 A15.8,15.8 0 1 1 895.6,995.5" stroke="#111" stroke-width="2.8" fill="none"/>
<path d="M886.4,989.3 L886.2,967.3 L896.0,967.3 L895.8000000000001,989.3" stroke="#111" stroke-width="1.5" fill="none"/>
<circle cx="891.1" cy="970.3" r="1.0" fill="#111"/>
<circle cx="880.3" cy="999.0" r="0.85" fill="#111"/>
<circle cx="872.4" cy="991.1" r="0.85" fill="#111"/>
<circle cx="869.5" cy="980.3" r="0.85" fill="#111"/>
<circle cx="872.4" cy="969.5" r="0.85" fill="#111"/>
<circle cx="880.3" cy="961.6" r="0.85" fill="#111"/>
<circle cx="891.1" cy="958.7" r="0.85" fill="#111"/>
<circle cx="901.9" cy="961.6" r="0.85" fill="#111"/>
<circle cx="909.8" cy="969.5" r="0.85" fill="#111"/>
<circle cx="912.7" cy="980.3" r="0.85" fill="#111"/>
<circle cx="909.8" cy="991.1" r="0.85" fill="#111"/>
<circle cx="901.9" cy="999.0" r="0.85" fill="#111"/>
<text x="874.6" y="1007" font-size="6" font-weight="bold" text-anchor="middle" letter-spacing="0" stroke="#111" stroke-width="0.3" >–</text>
<text x="907.6" y="1007.3" font-size="6.5" font-weight="bold" text-anchor="middle" letter-spacing="0" stroke="#111" stroke-width="0.3" >+</text>
<text x="942.4" y="956.4" font-size="4.6" font-weight="bold" text-anchor="middle" letter-spacing="0.6" stroke="#111" stroke-width="0.3" >TREBLE</text>
<circle cx="942.4" cy="980.3" r="18.2" stroke="#111" stroke-width="1.3" fill="none"/>
<path d="M937.9,995.5 A15.8,15.8 0 1 1 946.9,995.5" stroke="#111" stroke-width="2.8" fill="none"/>
<path d="M937.6999999999999,989.3 L937.5,967.3 L947.3,967.3 L947.1,989.3" stroke="#111" stroke-width="1.5" fill="none"/>
<circle cx="942.4" cy="970.3" r="1.0" fill="#111"/>
<circle cx="931.6" cy="999.0" r="0.85" fill="#111"/>
<circle cx="923.7" cy="991.1" r="0.85" fill="#111"/>
<circle cx="920.8" cy="980.3" r="0.85" fill="#111"/>
<circle cx="923.7" cy="969.5" r="0.85" fill="#111"/>
<circle cx="931.6" cy="961.6" r="0.85" fill="#111"/>
<circle cx="942.4" cy="958.7" r="0.85" fill="#111"/>
<circle cx="953.2" cy="961.6" r="0.85" fill="#111"/>
<circle cx="961.1" cy="969.5" r="0.85" fill="#111"/>
<circle cx="964.0" cy="980.3" r="0.85" fill="#111"/>
<circle cx="961.1" cy="991.1" r="0.85" fill="#111"/>
<circle cx="953.2" cy="999.0" r="0.85" fill="#111"/>
<text x="925.9" y="1007" font-size="6" font-weight="bold" text-anchor="middle" letter-spacing="0" stroke="#111" stroke-width="0.3" >–</text>
<text x="958.9" y="1007.3" font-size="6.5" font-weight="bold" text-anchor="middle" letter-spacing="0" stroke="#111" stroke-width="0.3" >+</text>
<text x="995" y="956.4" font-size="4.6" font-weight="bold" text-anchor="middle" letter-spacing="0.6" stroke="#111" stroke-width="0.3" >BALANCE</text>
<circle cx="995" cy="980.3" r="18.2" stroke="#111" stroke-width="1.3" fill="none"/>
<path d="M990.5,995.5 A15.8,15.8 0 1 1 999.5,995.5" stroke="#111" stroke-width="2.8" fill="none"/>
<path d="M990.3,989.3 L990.1,967.3 L999.9,967.3 L999.7,989.3" stroke="#111" stroke-width="1.5" fill="none"/>
<circle cx="995" cy="970.3" r="1.0" fill="#111"/>
<circle cx="984.2" cy="999.0" r="0.85" fill="#111"/>
<circle cx="976.3" cy="991.1" r="0.85" fill="#111"/>
<circle cx="973.4" cy="980.3" r="0.85" fill="#111"/>
<circle cx="976.3" cy="969.5" r="0.85" fill="#111"/>
<circle cx="984.2" cy="961.6" r="0.85" fill="#111"/>
<circle cx="995.0" cy="958.7" r="0.85" fill="#111"/>
<circle cx="1005.8" cy="961.6" r="0.85" fill="#111"/>
<circle cx="1013.7" cy="969.5" r="0.85" fill="#111"/>
<circle cx="1016.6" cy="980.3" r="0.85" fill="#111"/>
<circle cx="1013.7" cy="991.1" r="0.85" fill="#111"/>
<circle cx="1005.8" cy="999.0" r="0.85" fill="#111"/>
<text x="978.5" y="1007" font-size="6" font-weight="bold" text-anchor="middle" letter-spacing="0" stroke="#111" stroke-width="0.3" >L</text>
<text x="1011.5" y="1007.3" font-size="6.5" font-weight="bold" text-anchor="middle" letter-spacing="0" stroke="#111" stroke-width="0.3" >R</text>
<path d="M218.6,719 L218.6,852.7 L229.2,861.6 L246.9,877.1" stroke="#fff" stroke-width="4.9" fill="none"/>
<path d="M218.6,719 L218.6,852.7 L229.2,861.6 L246.9,877.1" stroke="#111" stroke-width="1.9" fill="none" stroke-linejoin="round"/>
<path d="M218.6,816.2 L229.2,824.3 L257,849.5" stroke="#111" stroke-width="1.9" fill="none" stroke-linejoin="round"/>
<circle cx="246.9" cy="877.1" r="3.2" fill="#111"/>
<path d="M294.8,719 L294.8,871 L328.2,910.5" stroke="#fff" stroke-width="4.9" fill="none"/>
<path d="M294.8,719 L294.8,871 L328.2,910.5" stroke="#111" stroke-width="1.9" fill="none" stroke-linejoin="round"/>
<path d="M331.2,719 L331.2,872 L363.9,912.4" stroke="#fff" stroke-width="4.9" fill="none"/>
<path d="M331.2,719 L331.2,872 L363.9,912.4" stroke="#111" stroke-width="1.9" fill="none" stroke-linejoin="round"/>
<path d="M387.4,719 L387.4,869" stroke="#fff" stroke-width="4.9" fill="none"/>
<path d="M387.4,719 L387.4,869" stroke="#111" stroke-width="1.9" fill="none" stroke-linejoin="round"/>
<path d="M442.6,719 L442.6,874.7 L410.9,912.4" stroke="#fff" stroke-width="4.9" fill="none"/>
<path d="M442.6,719 L442.6,874.7 L410.9,912.4" stroke="#111" stroke-width="1.9" fill="none" stroke-linejoin="round"/>
<path d="M475.5,719 L475.5,859.7 L460.1,877.9" stroke="#fff" stroke-width="4.9" fill="none"/>
<path d="M475.5,719 L475.5,859.7 L460.1,877.9" stroke="#111" stroke-width="1.9" fill="none" stroke-linejoin="round"/>
<circle cx="460.1" cy="877.9" r="3.0" fill="#111"/>
<path d="M498.8,719 L498.8,905.6" stroke="#fff" stroke-width="4.9" fill="none"/>
<path d="M498.8,719 L498.8,905.6" stroke="#111" stroke-width="1.9" fill="none" stroke-linejoin="round"/>
<path d="M579.6,719 L579.6,865.5" stroke="#fff" stroke-width="4.9" fill="none"/>
<path d="M579.6,719 L579.6,865.5" stroke="#111" stroke-width="1.9" fill="none" stroke-linejoin="round"/>
<circle cx="579.5" cy="865.5" r="3.2" fill="#111"/>
<path d="M658.7,719 L658.7,910.2" stroke="#fff" stroke-width="4.9" fill="none"/>
<path d="M658.7,719 L658.7,910.2" stroke="#111" stroke-width="1.9" fill="none" stroke-linejoin="round"/>
<path d="M686.4,719 L686.4,911.1" stroke="#fff" stroke-width="4.9" fill="none"/>
<path d="M686.4,719 L686.4,911.1" stroke="#111" stroke-width="1.9" fill="none" stroke-linejoin="round"/>
<path d="M718,719 L718,855 L701.5,882" stroke="#fff" stroke-width="4.9" fill="none"/>
<path d="M718,719 L718,855 L701.5,882" stroke="#111" stroke-width="1.9" fill="none" stroke-linejoin="round"/>
<path d="M783.8,719 L783.8,867" stroke="#fff" stroke-width="4.9" fill="none"/>
<path d="M783.8,719 L783.8,867" stroke="#111" stroke-width="1.9" fill="none" stroke-linejoin="round"/>
<path d="M783.8,749 L824.6,749 L824.6,904" stroke="#fff" stroke-width="4.71" fill="none"/>
<path d="M783.8,749 L824.6,749 L824.6,904" stroke="#111" stroke-width="1.71" fill="none" stroke-linejoin="round"/>
<path d="M925.5,718 L925.5,857.7" stroke="#fff" stroke-width="4.9" fill="none"/>
<path d="M925.5,718 L925.5,857.7" stroke="#111" stroke-width="1.9" fill="none" stroke-linejoin="round"/>
<circle cx="924.8" cy="857.7" r="3.2" fill="#111"/>
<path d="M259.8,991.6 L259.5,1108" stroke="#fff" stroke-width="4.9" fill="none"/>
<path d="M259.8,991.6 L259.5,1108" stroke="#111" stroke-width="1.9" fill="none" stroke-linejoin="round"/>
<circle cx="259.8" cy="991.6" r="3.3" fill="#111"/>
<path d="M351,993 L351,1108" stroke="#fff" stroke-width="4.71" fill="none"/>
<path d="M351,993 L351,1108" stroke="#111" stroke-width="1.71" fill="none" stroke-linejoin="round"/>
<path d="M480.7,1006 L480.7,1107.5" stroke="#fff" stroke-width="4.71" fill="none"/>
<path d="M480.7,1006 L480.7,1107.5" stroke="#111" stroke-width="1.71" fill="none" stroke-linejoin="round"/>
<path d="M569,956.5 L569,1107.5" stroke="#fff" stroke-width="4.71" fill="none"/>
<path d="M569,956.5 L569,1107.5" stroke="#111" stroke-width="1.71" fill="none" stroke-linejoin="round"/>
<path d="M761.2,949.1 L772.8,960 L772.8,1107" stroke="#fff" stroke-width="4.9" fill="none"/>
<path d="M761.2,949.1 L772.8,960 L772.8,1107" stroke="#111" stroke-width="1.9" fill="none" stroke-linejoin="round"/>
<path d="M791,986 L791,1107" stroke="#fff" stroke-width="4.9" fill="none"/>
<path d="M791,986 L791,1107" stroke="#111" stroke-width="1.9" fill="none" stroke-linejoin="round"/>
<path d="M821.2,986 L821.2,1107" stroke="#fff" stroke-width="4.9" fill="none"/>
<path d="M821.2,986 L821.2,1107" stroke="#111" stroke-width="1.9" fill="none" stroke-linejoin="round"/>
<path d="M891.1,991.5 L890,1107" stroke="#fff" stroke-width="4.9" fill="none"/>
<path d="M891.1,991.5 L890,1107" stroke="#111" stroke-width="1.9" fill="none" stroke-linejoin="round"/>
<circle cx="891.1" cy="991.8" r="3.3" fill="#111"/>
<path d="M942.4,991.5 L941.8,1107" stroke="#fff" stroke-width="4.9" fill="none"/>
<path d="M942.4,991.5 L941.8,1107" stroke="#111" stroke-width="1.9" fill="none" stroke-linejoin="round"/>
<circle cx="942.4" cy="991.8" r="3.3" fill="#111"/>
<path d="M995,991.5 L994.2,1107" stroke="#fff" stroke-width="4.9" fill="none"/>
<path d="M995,991.5 L994.2,1107" stroke="#111" stroke-width="1.9" fill="none" stroke-linejoin="round"/>
<circle cx="995" cy="991.8" r="3.3" fill="#111"/>
<circle cx="328.2" cy="910.5" r="3.6" fill="#111"/>
<circle cx="363.9" cy="912.4" r="3.6" fill="#111"/>
<circle cx="410.9" cy="912.4" r="3.6" fill="#111"/>
<circle cx="658.7" cy="910.2" r="3.6" fill="#111"/>
<circle cx="686.4" cy="911.1" r="3.6" fill="#111"/>
<circle cx="761.2" cy="949.1" r="3.6" fill="#111"/>
<circle cx="701.5" cy="882" r="2.6" fill="#111"/>
<circle cx="735.4" cy="882" r="2.6" fill="#111"/>
<circle cx="220.1" cy="708.2" r="9.3" stroke="#111" stroke-width="1.5" fill="#fff"/>
<text x="220.1" y="713.8000000000001" font-size="15.5" text-anchor="middle" stroke="#111" stroke-width="0.45" transform="translate(220.1 0) scale(0.9 1) translate(-220.1 0)">1</text>
<circle cx="296.2" cy="708.2" r="9.3" stroke="#111" stroke-width="1.5" fill="#fff"/>
<text x="296.2" y="713.8000000000001" font-size="15.5" text-anchor="middle" stroke="#111" stroke-width="0.45" transform="translate(296.2 0) scale(0.9 1) translate(-296.2 0)">2</text>
<circle cx="332" cy="708.2" r="9.3" stroke="#111" stroke-width="1.5" fill="#fff"/>
<text x="332" y="713.8000000000001" font-size="15.5" text-anchor="middle" stroke="#111" stroke-width="0.45" transform="translate(332 0) scale(0.9 1) translate(-332 0)">3</text>
<circle cx="387.4" cy="708" r="9.3" stroke="#111" stroke-width="1.5" fill="#fff"/>
<text x="387.4" y="713.6" font-size="15.5" text-anchor="middle" stroke="#111" stroke-width="0.45" transform="translate(387.4 0) scale(0.9 1) translate(-387.4 0)">4</text>
<circle cx="443.3" cy="708" r="9.3" stroke="#111" stroke-width="1.5" fill="#fff"/>
<text x="443.3" y="713.6" font-size="15.5" text-anchor="middle" stroke="#111" stroke-width="0.45" transform="translate(443.3 0) scale(0.9 1) translate(-443.3 0)">5</text>
<circle cx="475.8" cy="707.5" r="9.3" stroke="#111" stroke-width="1.5" fill="#fff"/>
<text x="475.8" y="713.1" font-size="15.5" text-anchor="middle" stroke="#111" stroke-width="0.45" transform="translate(475.8 0) scale(0.9 1) translate(-475.8 0)">6</text>
<circle cx="500.1" cy="707.5" r="9.3" stroke="#111" stroke-width="1.5" fill="#fff"/>
<text x="500.1" y="713.1" font-size="15.5" text-anchor="middle" stroke="#111" stroke-width="0.45" transform="translate(500.1 0) scale(0.9 1) translate(-500.1 0)">7</text>
<circle cx="580.8" cy="707.5" r="9.3" stroke="#111" stroke-width="1.5" fill="#fff"/>
<text x="580.8" y="713.1" font-size="15.5" text-anchor="middle" stroke="#111" stroke-width="0.45" transform="translate(580.8 0) scale(0.9 1) translate(-580.8 0)">8</text>
<circle cx="659.4" cy="707.3" r="9.3" stroke="#111" stroke-width="1.5" fill="#fff"/>
<text x="659.4" y="712.9" font-size="15.5" text-anchor="middle" stroke="#111" stroke-width="0.45" transform="translate(659.4 0) scale(0.9 1) translate(-659.4 0)">9</text>
<circle cx="686.8" cy="707.3" r="9.3" stroke="#111" stroke-width="1.5" fill="#fff"/>
<text x="686.8" y="712.8" font-size="15.5" text-anchor="middle" letter-spacing="-1.3" stroke="#111" stroke-width="0.45" transform="translate(685.9 0) scale(0.74 1) translate(-686.8 0)">10</text>
<circle cx="717.7" cy="707.3" r="9.3" stroke="#111" stroke-width="1.5" fill="#fff"/>
<text x="717.7" y="712.8" font-size="15.5" text-anchor="middle" letter-spacing="-1.3" stroke="#111" stroke-width="0.45" transform="translate(716.8000000000001 0) scale(0.74 1) translate(-717.7 0)">11</text>
<circle cx="785" cy="707" r="9.3" stroke="#111" stroke-width="1.5" fill="#fff"/>
<text x="785" y="712.5" font-size="15.5" text-anchor="middle" letter-spacing="-1.3" stroke="#111" stroke-width="0.45" transform="translate(784.1 0) scale(0.74 1) translate(-785 0)">12</text>
<circle cx="926.7" cy="705.8" r="9.3" stroke="#111" stroke-width="1.5" fill="#fff"/>
<text x="926.7" y="711.3" font-size="15.5" text-anchor="middle" letter-spacing="-1.3" stroke="#111" stroke-width="0.45" transform="translate(925.8000000000001 0) scale(0.74 1) translate(-926.7 0)">13</text>
<circle cx="259" cy="1118" r="9.3" stroke="#111" stroke-width="1.5" fill="#fff"/>
<text x="259" y="1123.5" font-size="15.5" text-anchor="middle" letter-spacing="-1.3" stroke="#111" stroke-width="0.45" transform="translate(258.1 0) scale(0.74 1) translate(-259 0)">14</text>
<circle cx="351.4" cy="1118" r="9.3" stroke="#111" stroke-width="1.5" fill="#fff"/>
<text x="351.4" y="1123.5" font-size="15.5" text-anchor="middle" letter-spacing="-1.3" stroke="#111" stroke-width="0.45" transform="translate(350.5 0) scale(0.74 1) translate(-351.4 0)">15</text>
<circle cx="480.5" cy="1117" r="9.3" stroke="#111" stroke-width="1.5" fill="#fff"/>
<text x="480.5" y="1122.5" font-size="15.5" text-anchor="middle" letter-spacing="-1.3" stroke="#111" stroke-width="0.45" transform="translate(479.6 0) scale(0.74 1) translate(-480.5 0)">16</text>
<circle cx="568.6" cy="1117" r="9.3" stroke="#111" stroke-width="1.5" fill="#fff"/>
<text x="568.6" y="1122.5" font-size="15.5" text-anchor="middle" letter-spacing="-1.3" stroke="#111" stroke-width="0.45" transform="translate(567.7 0) scale(0.74 1) translate(-568.6 0)">17</text>
<circle cx="771.6" cy="1116.5" r="9.3" stroke="#111" stroke-width="1.5" fill="#fff"/>
<text x="771.6" y="1122.0" font-size="15.5" text-anchor="middle" letter-spacing="-1.3" stroke="#111" stroke-width="0.45" transform="translate(770.7 0) scale(0.74 1) translate(-771.6 0)">18</text>
<circle cx="794.7" cy="1116.5" r="9.3" stroke="#111" stroke-width="1.5" fill="#fff"/>
<text x="794.7" y="1122.0" font-size="15.5" text-anchor="middle" letter-spacing="-1.3" stroke="#111" stroke-width="0.45" transform="translate(793.8000000000001 0) scale(0.74 1) translate(-794.7 0)">19</text>
<circle cx="821.4" cy="1116.5" r="9.3" stroke="#111" stroke-width="1.5" fill="#fff"/>
<text x="821.4" y="1122.0" font-size="15.5" text-anchor="middle" letter-spacing="-1.3" stroke="#111" stroke-width="0.45" transform="translate(820.5 0) scale(0.74 1) translate(-821.4 0)">20</text>
<circle cx="890" cy="1116.5" r="9.3" stroke="#111" stroke-width="1.5" fill="#fff"/>
<text x="890" y="1122.0" font-size="15.5" text-anchor="middle" letter-spacing="-1.3" stroke="#111" stroke-width="0.45" transform="translate(889.1 0) scale(0.74 1) translate(-890 0)">21</text>
<circle cx="941.8" cy="1116.5" r="9.3" stroke="#111" stroke-width="1.5" fill="#fff"/>
<text x="941.8" y="1122.0" font-size="15.5" text-anchor="middle" letter-spacing="-1.3" stroke="#111" stroke-width="0.45" transform="translate(940.9 0) scale(0.74 1) translate(-941.8 0)">22</text>
<circle cx="994" cy="1116.5" r="9.3" stroke="#111" stroke-width="1.5" fill="#fff"/>
<text x="994" y="1122.0" font-size="15.5" text-anchor="middle" letter-spacing="-1.3" stroke="#111" stroke-width="0.45" transform="translate(993.1 0) scale(0.74 1) translate(-994 0)">23</text>
</g></svg>
</body></html>
